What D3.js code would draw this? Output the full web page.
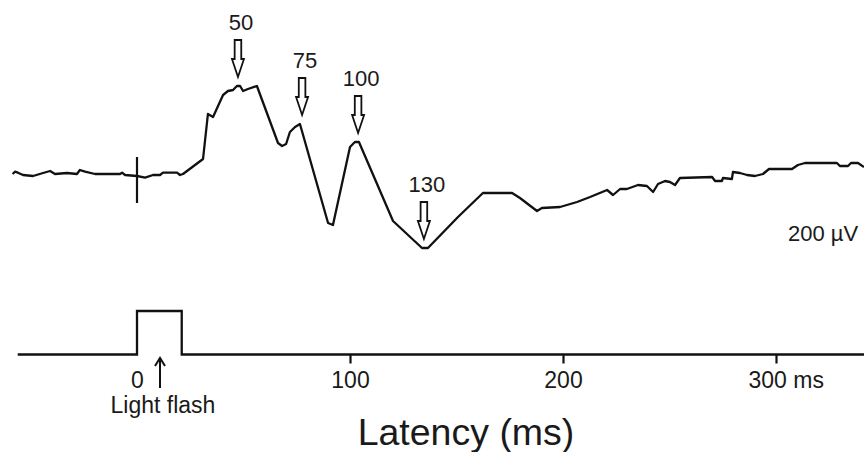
<!DOCTYPE html>
<html>
<head>
<meta charset="utf-8">
<script src="https://cdn.jsdelivr.net/npm/d3@7"></script>
<style>
  body { margin: 0; background: #fff; }
  text { font-family: "Liberation Sans", Arial, sans-serif; fill: #1a1a1a; }
</style>
</head>
<body>
<svg id="vep" width="864" height="452"></svg>
<script>
// evoked potential trace, latency in ms, amplitude in µV
const latency = [-58.4, -57.3, -55.9, -53.5, -48.8, -44.1, -40.8, -38.5, -32.9, -28.2,
    -26.8, -24.4, -19.7, -8.0, -7.0, -5.6, 0, 3.8, 7.5, 10.8,
    12.2, 18.8, 20.2, 21.6, 31.0, 33.3, 35.7, 40.4, 42.7, 45.1,
    46.9, 48.4, 49.8, 52.1, 56.3, 66.2, 68.1, 70.0, 71.8, 74.2,
    76.5, 89.7, 92.0, 100.0, 102.3, 104.2, 120.2, 133.8, 136.6, 150.7,
    162.4, 176.1, 179.8, 187.8, 190.1, 198.6, 206.6, 212.7, 220.7, 223.5,
    226.8, 230.0, 235.2, 239.4, 242.3, 244.6, 247.9, 250.2, 252.6, 254.9,
    270.0, 271.4, 274.6, 275.1, 279.3, 279.8, 283.1, 286.4, 290.1, 293.9,
    296.7, 307.5, 310.3, 313.6, 328.6, 330.0, 333.8, 335.2, 338.5, 341.3];
const amplitude = [0, 4.6, 2.6, -2, -4, 2, 6, 0, 2, 0,
    8, 4.6, 0, 0, 2.6, -2, -4, -7.4, -2, -2,
    2.6, 2.6, -2, 0, 30, 120, 114, 158, 166, 168,
    176, 176, 166, 170, 176, 62, 56, 60, 84, 94,
    100, -98, -102, 54, 64, 64, -94, -148, -148, -86,
    -38, -38, -48, -74, -68, -66, -56, -46, -32, -42,
    -30, -30, -22, -24, -36, -20, -14, -16, -22, -8,
    -6, -14, -14, -8, -10, 4, 2, -2, -4, 0,
    10, 10, 18, 22, 22, 16, 16, 22, 22, 14];

// light flash stimulus (0 = off, 1 = on)
const stimTime = [-56, 0, 0, 21, 21, 341.3];
const stimLevel = [0, 0, 1, 1, 0, 0];

// labelled peaks
const peakLabels = ["50", "75", "100", "130"];
const peakLatency = [47.4, 77.5, 103.8, 134.7];
const peakAmplitude = [176, 100, 64, -148];

const tickValues = [0, 100, 200, 300];

const svg = d3.select("#vep");

const x = d3.scaleLinear().domain([0, 300]).range([137, 776]);
const y = d3.scaleLinear().domain([0, 200]).range([174, 74]);
const yStim = d3.scaleLinear().domain([0, 1]).range([354.5, 311]);

const trace = latency.map((t, i) => [t, amplitude[i]]);
const stim = stimTime.map((t, i) => [t, stimLevel[i]]);

// main trace
svg.append("path")
    .datum(trace)
    .attr("fill", "none")
    .attr("stroke", "#111")
    .attr("stroke-width", 2.3)
    .attr("stroke-linejoin", "round")
    .attr("d", d3.line().x(d => x(d[0])).y(d => y(d[1])));

// stimulus onset marker
svg.append("line")
    .attr("x1", x(0)).attr("x2", x(0))
    .attr("y1", y(34)).attr("y2", y(-58))
    .attr("stroke", "#111")
    .attr("stroke-width", 2.2);

// hollow arrows over the peaks
const peaks = peakLabels.map((label, i) => ({
    label,
    t: peakLatency[i],
    v: peakAmplitude[i]
}));

const arrow = svg.append("g")
    .selectAll("g")
    .data(peaks)
    .join("g")
    .attr("transform", d => `translate(${x(d.t)},${y(d.v) - 9})`);

arrow.append("path")
    .attr("d", "M-3.3,-37 L3.3,-37 L3.3,-18 L6,-18 L0,0 L-6,-18 L-3.3,-18 Z")
    .attr("fill", "#fff")
    .attr("stroke", "#111")
    .attr("stroke-width", 1.8)
    .attr("stroke-linejoin", "miter");

arrow.append("text")
    .attr("x", 3)
    .attr("y", -47)
    .attr("text-anchor", "middle")
    .attr("font-size", 22)
    .text(d => d.label);

// amplitude label
svg.append("text")
    .attr("x", 788)
    .attr("y", 241)
    .attr("font-size", 22)
    .text("200 µV");

// stimulus trace
svg.append("path")
    .datum(stim)
    .attr("fill", "none")
    .attr("stroke", "#111")
    .attr("stroke-width", 2.3)
    .attr("d", d3.line().x(d => x(d[0])).y(d => yStim(d[1])));

// time axis
const axis = svg.append("g")
    .attr("transform", `translate(0,${yStim(0)})`)
    .call(d3.axisBottom(x)
        .tickValues(tickValues)
        .tickSize(9)
        .tickPadding(8)
        .tickFormat(d => d === 300 ? "300 ms" : d));

axis.select(".domain").remove();
axis.selectAll(".tick line")
    .attr("stroke", "#111")
    .attr("stroke-width", 2.2)
    .filter(d => d === 0)
    .remove();
axis.selectAll(".tick text")
    .attr("font-size", 23)
    .attr("font-family", "Liberation Sans, Arial, sans-serif")
    .attr("fill", "#1a1a1a")
    .filter(d => d === 300)
    .attr("text-anchor", "start")
    .attr("dx", -28);

// light flash pointer
const flashX = x(10.8);
svg.append("path")
    .attr("d", `M${flashX},388 L${flashX},358 M${flashX - 5},366 L${flashX},358 L${flashX + 5},366`)
    .attr("fill", "none")
    .attr("stroke", "#111")
    .attr("stroke-width", 2);

svg.append("text")
    .attr("x", flashX + 3)
    .attr("y", 413)
    .attr("text-anchor", "middle")
    .attr("font-size", 23)
    .text("Light flash");

svg.append("text")
    .attr("x", 466)
    .attr("y", 445)
    .attr("text-anchor", "middle")
    .attr("font-size", 37.5)
    .text("Latency (ms)");
</script>
</body>
</html>
